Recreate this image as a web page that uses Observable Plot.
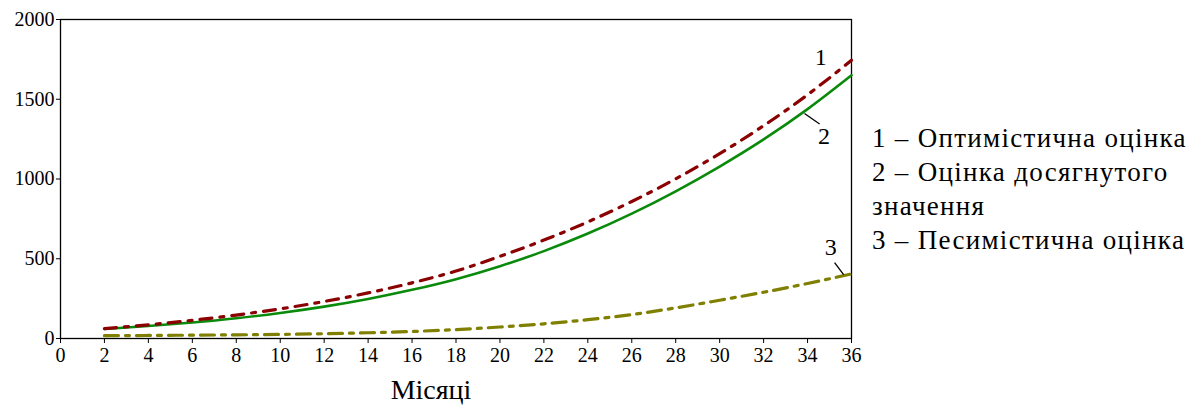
<!DOCTYPE html>
<html>
<head>
<meta charset="utf-8">
<script src="https://cdn.jsdelivr.net/npm/d3@7"></script>
<script src="https://cdn.jsdelivr.net/npm/@observablehq/plot@0.6"></script>
<style>
  html, body { margin: 0; padding: 0; background: #fff; }
  #wrap { position: relative; width: 1199px; height: 410px; }
  #chart { position: absolute; left: 0; top: 0; }
  #chart svg g[aria-label$="tick label"], #chart svg g[aria-label$="tick label"] text { font-size: 20px !important; }
  #legend { position: absolute; left: 872px; top: 121px; width: 330px; font-family: "Liberation Serif", "Noto Serif", Tinos, FreeSerif, "DejaVu Serif", "Liberation Sans", serif; font-size: 27px; letter-spacing: 1.3px; line-height: 34px; color: #000; }
</style>
</head>
<body>
<div id="wrap"><div id="chart"></div><div id="legend"></div></div>
<script>
const months = [2, 4, 6, 8, 10, 12, 14, 16, 18, 20, 22, 24, 26, 28, 30, 32, 34, 36];
const optimistic  = [62, 86, 114, 147, 186, 232, 286, 349, 423, 515, 617, 731, 859, 1001, 1159, 1334, 1528, 1745];
const achieved    = [60, 78, 100, 127, 160, 200, 248, 305, 372, 453, 548, 658, 783, 923, 1078, 1248, 1438, 1650];
const pessimistic = [18, 19, 21, 23, 26, 30, 36, 44, 56, 72, 92, 118, 150, 192, 240, 290, 345, 405];
const xTicks = [0, 2, 4, 6, 8, 10, 12, 14, 16, 18, 20, 22, 24, 26, 28, 30, 32, 34, 36];
const yTicks = [0, 500, 1000, 1500, 2000];
const legendItems = ["1 – Оптимістична оцінка", "2 – Оцінка досягнутого значення", "3 – Песимістична оцінка"];
const xLabel = "Місяці";
const callouts = [
  {label: "1", x: 34.6, y: 1760},
  {label: "2", x: 34.75, y: 1265},
  {label: "3", x: 35.05, y: 570}
];
const leaders = [
  {x1: 33.86, y1: 1411, x2: 34.55, y2: 1345},
  {x1: 35.23, y1: 476, x2: 35.64, y2: 401}
];

const rows = (vals) => months.map((m, i) => ({m, v: vals[i]}));
const serif = "'Liberation Serif', 'Noto Serif', Tinos, FreeSerif, 'DejaVu Serif', 'Liberation Sans', serif";

const chart = Plot.plot({
  width: 870,
  height: 410,
  marginLeft: 60,
  marginRight: 19,
  marginTop: 19,
  marginBottom: 72,
  style: {fontFamily: serif, fontSize: "20px", background: "white", color: "black"},
  x: {domain: [0, 36], label: null},
  y: {domain: [0, 2000], label: null},
  marks: [
    Plot.frame({stroke: "black", strokeWidth: 1.3}),
    Plot.axisX({ticks: xTicks, tickFormat: "d", label: null, tickSize: 5, tickPadding: 4, fontFamily: serif}),
    Plot.axisY({ticks: yTicks, tickFormat: "d", label: null, tickSize: 4, tickPadding: 2, fontFamily: serif}),
    Plot.line(rows(pessimistic), {x: "m", y: "v", stroke: "#808000", strokeWidth: 3.2, strokeDasharray: "14,7,4,7", curve: "monotone-x"}),
    Plot.line(rows(achieved), {x: "m", y: "v", stroke: "#0a8a0a", strokeWidth: 2.6, curve: "monotone-x"}),
    Plot.line(rows(optimistic), {x: "m", y: "v", stroke: "#8b0000", strokeWidth: 3.2, strokeDasharray: "12,8,4,8", curve: "monotone-x"}),
    Plot.link(leaders, {x1: "x1", y1: "y1", x2: "x2", y2: "y2", stroke: "black", strokeWidth: 1.3}),
    Plot.text(callouts, {x: "x", y: "y", text: "label", fontSize: 24, fontFamily: serif, fill: "black"}),
    Plot.text([xLabel], {frameAnchor: "bottom", text: d => d, dx: -25, dy: 60, fontSize: 28, fontFamily: serif, fill: "black"})
  ]
});
document.getElementById("chart").appendChild(chart);
document.getElementById("legend").innerHTML = legendItems.map(t => `<div>${t}</div>`).join("");
</script>
</body>
</html>
